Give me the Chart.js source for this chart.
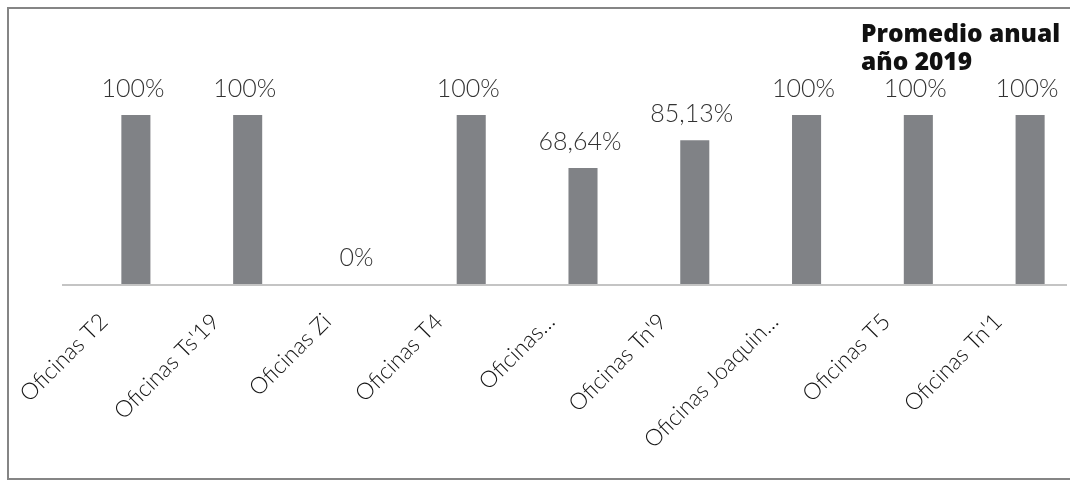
<!DOCTYPE html>
<html lang="es">
<head>
    <meta charset="UTF-8">
    <title>Promedio anual año 2019</title>
    <script src="https://cdn.jsdelivr.net/npm/chart.js"></script>
    <style>
        body {
            margin: 0;
            background: #ffffff;
            width: 1070px;
            height: 481px;
            overflow: hidden;
            position: relative;
        }
        #grafico {
            position: absolute;
            left: 0;
            top: 0;
        }
        #marco {
            position: absolute;
            left: 7px;
            top: 7px;
            width: 1070px;
            height: 469px;
            border: 2px solid #858585;
            border-right: none;
            pointer-events: none;
        }
        #titulo {
            position: absolute;
            left: 861px;
            top: 19px;
            font-family: "Open Sans", sans-serif;
            font-weight: 800;
            font-size: 24.5px;
            line-height: 28px;
            color: #111111;
        }
    </style>
</head>
<body>
    <!-- el lienzo es algo más ancho que la ventana: la última categoría queda recortada como en el original -->
    <canvas id="grafico" width="1090" height="481"></canvas>
    <div id="marco"></div>
    <div id="titulo">Promedio anual<br>año 2019</div>

    <script>
        // Datos del gráfico
        const oficinas = [
            'Oficinas T2', "Oficinas Ts'19", 'Oficinas Zi', 'Oficinas T4',
            'Oficinas...', "Oficinas Tn'9", 'Oficinas Joaquin...', 'Oficinas T5', "Oficinas Tn'1"
        ];
        const promedios = [100, 100, 0, 100, 68.64, 85.13, 100, 100, 100];
        const etiquetas = ['100%', '100%', '0%', '100%', '68,64%', '85,13%', '100%', '100%', '100%'];

        // Línea base (un poco más larga que el área del gráfico, como en el original)
        const lineaBase = {
            id: 'lineaBase',
            beforeDatasetsDraw(chart) {
                const ctx = chart.ctx;
                const y = chart.scales.y.getPixelForValue(0);
                ctx.save();
                ctx.strokeStyle = '#c4c4c4';
                ctx.lineWidth = 2;
                ctx.beginPath();
                ctx.moveTo(chart.chartArea.left - 18, y + 1);
                ctx.lineTo(1067, y + 1);
                ctx.stroke();
                ctx.restore();
            }
        };

        // Etiquetas de valor encima de cada barra
        const etiquetasValor = {
            id: 'etiquetasValor',
            afterDatasetsDraw(chart) {
                const ctx = chart.ctx;
                const meta = chart.getDatasetMeta(0);
                ctx.save();
                ctx.font = '300 25px Lato, sans-serif';
                ctx.fillStyle = '#333333';
                ctx.textAlign = 'center';
                ctx.textBaseline = 'alphabetic';
                meta.data.forEach((barra, i) => {
                    ctx.fillText(etiquetas[i], barra.x - 3, barra.y - 18);
                });
                ctx.restore();
            }
        };

        new Chart(document.getElementById('grafico'), {
            type: 'bar',
            data: {
                labels: oficinas,
                datasets: [{
                    data: promedios,
                    backgroundColor: '#808286',
                    borderWidth: 0,
                    categoryPercentage: 1,
                    barPercentage: 0.26
                }]
            },
            options: {
                responsive: false,
                animation: false,
                layout: { padding: { left: 80, right: 4, top: 115, bottom: 0 } },
                plugins: {
                    legend: { display: false },
                    tooltip: { enabled: false }
                },
                scales: {
                    x: {
                        grid: { display: false, drawTicks: false },
                        border: { display: false },
                        ticks: {
                            autoSkip: false,
                            minRotation: 45,
                            maxRotation: 45,
                            padding: 24,
                            labelOffset: -32,
                            color: '#151515',
                            font: { family: 'Lato, sans-serif', size: 23, weight: '300' }
                        },
                        afterFit(escala) {
                            escala.paddingLeft = 0;
                            escala.paddingRight = 0;
                            escala.height = 197;
                        }
                    },
                    y: {
                        display: false,
                        min: 0,
                        max: 100
                    }
                }
            },
            plugins: [lineaBase, etiquetasValor]
        });
    </script>
</body>
</html>
